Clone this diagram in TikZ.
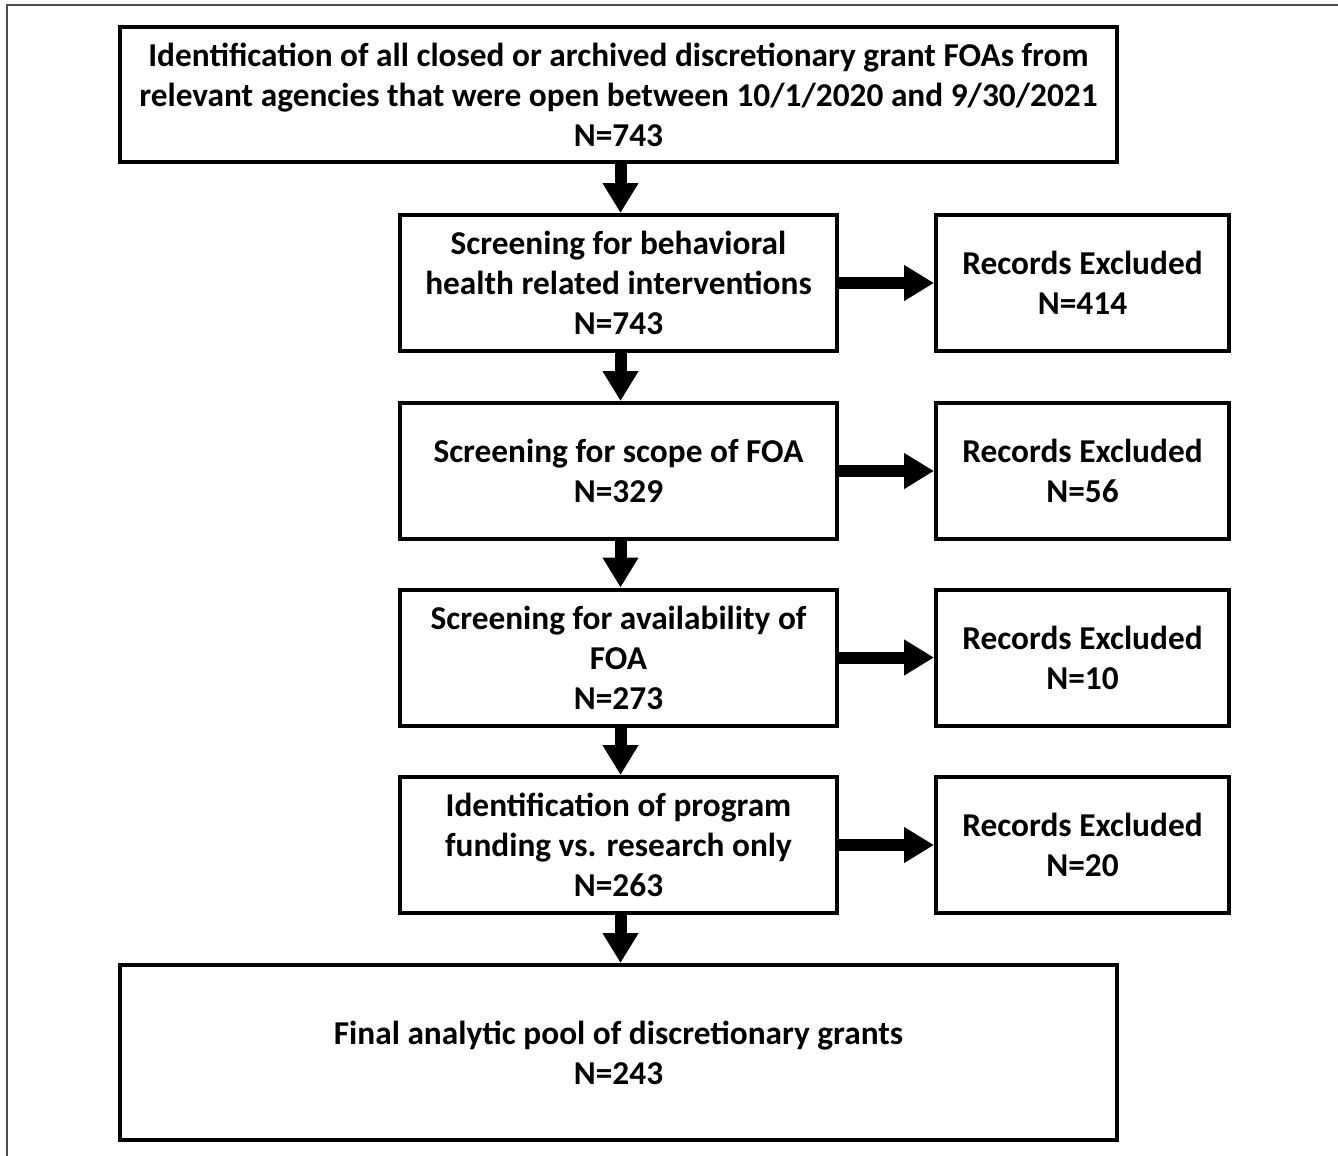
\documentclass[tikz,border=0pt]{standalone}
\usepackage{fontspec}
\setmainfont{Carlito}
\usetikzlibrary{arrows.meta}
\begin{document}
\begin{tikzpicture}[x=0.75pt,y=-0.75pt,
  box/.style={draw=black,line width=3pt,rectangle,align=center,inner sep=0pt,
    font=\fontsize{25pt}{30pt}\selectfont\bfseries},
  wide/.style={box,minimum width=747.75pt,minimum height=101.25pt},
  mid/.style={box,minimum width=327.75pt,minimum height=102pt},
  excl/.style={box,minimum width=219.75pt,minimum height=102pt},
  arr/.style={line width=9pt,-{Triangle[width=25.5pt,length=22.5pt]}}]
\useasboundingbox (0,0) rectangle (1338,1156);
\draw[line width=1.3pt,black!70] (7,1156) -- (7,5) -- (1338,5);
\node[wide] (top) at (618.5,94.5) {Identification of all closed or archived discretionary grant FOAs from\\relevant agencies that were open between 10/1/2020 and 9/30/2021\\N=743};
\node[mid] (s1) at (618.5,283) {Screening for behavioral\\health related interventions\\N=743};
\node[mid] (s2) at (618.5,471) {Screening for scope of FOA\\N=329};
\node[mid] (s3) at (618.5,657.5) {Screening for availability of\\FOA\\N=273};
\node[mid] (s4) at (618.5,845) {Identification of program\\funding vs. research only\\N=263};
\node[wide,minimum height=131.25pt] (fin) at (618.5,1052.5) {Final analytic pool of discretionary grants\\N=243};
\node[excl] (e1) at (1082.5,283) {Records Excluded\\N=414};
\node[excl] (e2) at (1082.5,471) {Records Excluded\\N=56};
\node[excl] (e3) at (1082.5,657.5) {Records Excluded\\N=10};
\node[excl] (e4) at (1082.5,845) {Records Excluded\\N=20};
\draw[arr] ([xshift=1.5pt]top.south) -- ([xshift=1.5pt]s1.north);
\draw[arr] ([xshift=1.5pt]s1.south) -- ([xshift=1.5pt]s2.north);
\draw[arr] ([xshift=1.5pt]s2.south) -- ([xshift=1.5pt]s3.north);
\draw[arr] ([xshift=1.5pt]s3.south) -- ([xshift=1.5pt]s4.north);
\draw[arr] ([xshift=1.5pt]s4.south) -- ([xshift=1.5pt]fin.north);
\draw[arr] (s1.east) -- (e1.west);
\draw[arr] (s2.east) -- (e2.west);
\draw[arr] (s3.east) -- (e3.west);
\draw[arr] (s4.east) -- (e4.west);
\end{tikzpicture}
\end{document}
